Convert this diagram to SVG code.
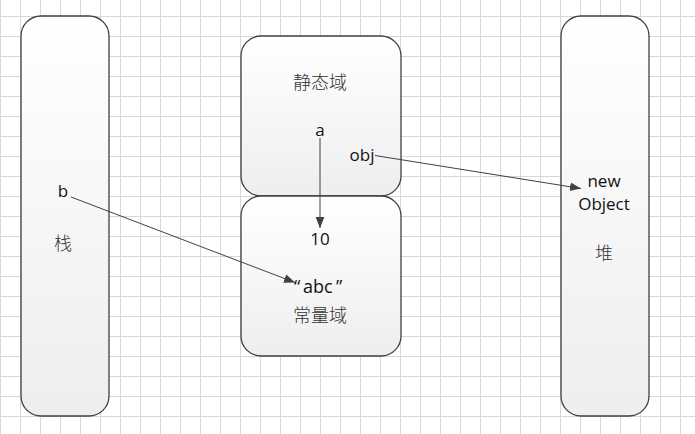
<svg xmlns="http://www.w3.org/2000/svg" width="695" height="434" viewBox="0 0 695 434">
<defs>
<pattern id="grid" x="0" y="16" width="20" height="20" patternUnits="userSpaceOnUse">
<path d="M0.5 0V20M0 0.5H20" fill="none" stroke="#d8d8d8" stroke-width="1"/>
</pattern>
<linearGradient id="fill" x1="0" y1="0" x2="0" y2="1">
<stop offset="0" stop-color="#ffffff"/>
<stop offset="1" stop-color="#eeeeee"/>
</linearGradient>
<marker id="arrow" viewBox="0 0 10 10" refX="10" refY="5" markerWidth="11" markerHeight="11" markerUnits="userSpaceOnUse" orient="auto">
<path d="M0 1 L10 5 L0 9 Z" fill="#404040"/>
</marker>
<style>
.box{fill:url(#fill);stroke:#404040;stroke-width:1.3}
.lat{font-family:"Open Sans","Liberation Sans",sans-serif;font-size:17px;fill:#111;text-anchor:middle;dominant-baseline:central}
.cjk{font-family:"Noto Sans CJK SC",sans-serif;font-size:18px;font-weight:300;fill:#333;text-anchor:middle;dominant-baseline:central}
.conn{stroke:#404040;stroke-width:1;fill:none;marker-end:url(#arrow)}
</style>
</defs>
<rect width="695" height="434" fill="#ffffff"/>
<rect width="695" height="434" fill="url(#grid)"/>
<g id="stack">
<rect class="box" x="21" y="16" width="88" height="400" rx="20" ry="20"/>
<text class="lat" x="63" y="190">b</text>
<text class="cjk" x="63" y="242">栈</text>
</g>
<g id="static">
<rect class="box" x="241" y="36" width="160" height="160" rx="20" ry="20"/>
<text class="cjk" x="320" y="81">静态域</text>
<text class="lat" x="320" y="129">a</text>
<text class="lat" x="362" y="154">obj</text>
</g>
<g id="constant">
<rect class="box" x="241" y="196" width="160" height="160" rx="20" ry="20"/>
<text class="lat" x="320" y="238">10</text>
<text class="lat" y="286" style="text-anchor:start;font-size:18px"><tspan x="294">“</tspan><tspan x="303">abc</tspan><tspan x="336">”</tspan></text>
<text class="cjk" x="320" y="314">常量域</text>
</g>
<g id="heap">
<rect class="box" x="561" y="16" width="88" height="400" rx="20" ry="20"/>
<text class="lat" x="604" y="180">new</text>
<text class="lat" x="604" y="203">Object</text>
<text class="cjk" x="604" y="252">堆</text>
</g>
<g id="connectors">
<line class="conn" x1="320" y1="138" x2="320" y2="228"/>
<line class="conn" x1="375" y1="155.5" x2="581" y2="188.5"/>
<line class="conn" x1="71" y1="197" x2="295" y2="282.5"/>
</g>
</svg>
